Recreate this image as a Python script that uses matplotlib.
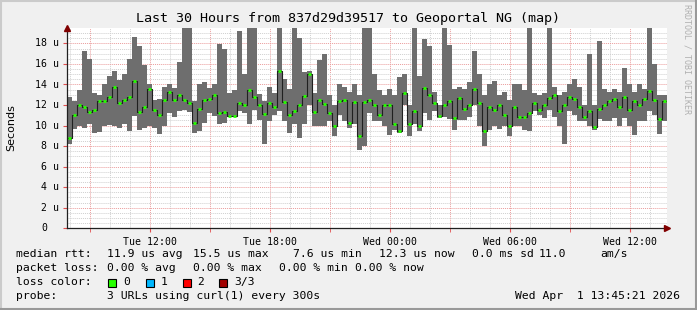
import numpy as np
import matplotlib
matplotlib.use("Agg")
import matplotlib.pyplot as plt
from matplotlib.lines import Line2D
from matplotlib.patches import Rectangle

# smokeping data, one sample every 15 minutes, values in microseconds
t_start = 7.85  # hours since Tue 00:00
step_h = 0.25

rtt_min = [8.2, 9.7, 10.0, 9.8, 10.2, 9.3, 9.4, 10.0, 10.1, 10.0, 9.8, 10.2, 9.5, 10.9, 9.6, 9.8, 10.0, 9.8, 9.2, 10.0,
           11.2, 10.8, 11.4, 11.5, 11.3, 9.3, 9.5, 10.3, 11.2, 10.9, 10.2, 10.3, 10.8, 10.8, 11.4, 11.2, 10.2, 11.5, 10.5, 8.2,
           10.4, 11.0, 11.4, 10.4, 9.3, 10.2, 8.8, 10.2, 12.0, 10.0, 10.0, 10.0, 10.4, 9.0, 11.0, 10.4, 9.8, 10.2, 7.6, 8.0,
           11.2, 10.4, 10.4, 10.0, 9.1, 9.6, 9.3, 12.0, 9.0, 10.2, 9.5, 11.2, 10.5, 11.4, 10.7, 10.8, 10.6, 9.6, 10.5, 10.5,
           10.8, 12.0, 10.0, 8.0, 9.6, 10.0, 9.7, 10.0, 9.0, 10.0, 10.0, 9.6, 9.5, 11.4, 11.0, 10.7, 11.5, 10.8, 10.0, 8.2,
           11.4, 11.0, 10.4, 10.4, 10.0, 9.6, 10.6, 10.4, 10.4, 10.7, 10.0, 10.7, 10.0, 9.1, 10.4, 10.4, 11.4, 11.0, 9.2, 10.4]

rtt_med = [8.8, 11.0, 12.0, 11.8, 11.3, 11.5, 12.4, 12.4, 12.8, 13.8, 12.2, 12.5, 12.8, 14.3, 11.3, 11.8, 13.6, 11.5, 11.0, 12.5,
           13.3, 12.5, 13.0, 12.5, 12.2, 10.3, 11.6, 12.5, 12.6, 13.0, 11.2, 11.3, 10.9, 10.9, 12.2, 12.0, 13.5, 12.8, 12.0, 11.1,
           12.2, 11.8, 15.3, 12.3, 11.0, 11.4, 12.0, 12.9, 15.0, 11.3, 12.5, 12.1, 11.2, 10.0, 12.4, 12.5, 10.3, 12.3, 9.0, 12.3,
           12.5, 12.0, 11.0, 12.0, 12.0, 10.2, 9.5, 13.2, 10.2, 11.4, 10.0, 13.7, 13.0, 12.2, 10.9, 12.0, 12.4, 10.7, 12.7, 11.6,
           12.0, 13.6, 12.2, 9.5, 11.8, 11.5, 12.0, 11.0, 10.0, 11.8, 10.8, 10.8, 11.2, 12.2, 11.5, 12.0, 12.7, 13.0, 11.4, 12.0,
           12.8, 12.6, 11.8, 10.8, 11.4, 9.9, 11.6, 12.0, 12.4, 12.6, 11.8, 12.8, 11.5, 12.4, 12.0, 12.6, 13.4, 12.5, 10.6, 12.4]

rtt_max = [12.8, 12.4, 13.5, 17.3, 16.5, 13.2, 13.0, 14.0, 14.8, 15.3, 14.4, 15.0, 16.5, 18.6, 17.7, 15.9, 14.0, 12.5, 12.6, 13.8,
           14.0, 13.7, 16.2, 20.5, 20.5, 12.4, 14.0, 14.2, 13.7, 14.0, 17.9, 17.5, 13.2, 13.5, 19.2, 15.0, 20.5, 20.5, 13.1, 12.4,
           13.8, 13.2, 20.5, 14.5, 13.6, 20.5, 18.5, 15.2, 15.3, 13.2, 16.4, 17.0, 13.0, 12.0, 14.0, 13.8, 13.3, 14.0, 13.0, 20.5,
           20.5, 15.0, 13.5, 13.0, 13.6, 13.0, 14.7, 15.0, 12.0, 20.5, 14.8, 18.4, 17.7, 13.3, 12.0, 20.5, 17.8, 13.6, 13.8, 13.6,
           14.2, 17.3, 15.0, 13.0, 14.0, 14.3, 13.0, 13.3, 12.5, 14.0, 14.0, 13.5, 20.5, 13.2, 13.0, 13.2, 20.5, 13.8, 13.0, 13.3,
           14.0, 14.5, 13.8, 12.0, 17.0, 12.0, 18.2, 13.6, 13.3, 13.6, 13.3, 15.6, 14.0, 13.3, 14.0, 13.6, 20.5, 16.0, 13.0, 13.0]

tick_hours = [12, 18, 24, 30, 36]
tick_labels = ["Tue 12:00", "Tue 18:00", "Wed 00:00", "Wed 06:00", "Wed 12:00"]
y_ticks = [0, 2, 4, 6, 8, 10, 12, 14, 16, 18]
y_labels = ["0", "2 u", "4 u", "6 u", "8 u", "10 u", "12 u", "14 u", "16 u", "18 u"]

legend_rows = [
    [(16, "median rtt:"), (107, "11.9 us avg"), (193, "15.5 us max"), (293, "7.6 us min"),
     (379, "12.3 us now"), (472, "0.0 ms sd"), (539, "11.0"), (600, "am/s")],
    [(16, "packet loss:"), (107, "0.00 % avg"), (193, "0.00 % max"), (279, "0.00 % min"), (355, "0.00 % now")],
    [(16, "loss color:")],
    [(16, "probe:"), (107, "3 URLs using curl(1) every 300s")],
]
loss_colors = ["#26ff00", "#00b8ff", "#ff0000", "#a10000"]
loss_names = ["0", "1", "2", "3/3"]
loss_box_x = [108, 146, 183, 219]
loss_text_x = [123, 161, 197, 234]

W, H = 697, 310
MONO = "DejaVu Sans Mono"

def fx(px):
    return px / W

def fy(py):
    return 1 - py / H

fig = plt.figure(figsize=(W / 100, H / 100), dpi=100, facecolor="#f0f0f0")
ax = fig.add_axes([fx(67), fy(228.3), 600 / W, (228.3 - 28) / H])
ax.set_facecolor("white")

t = t_start + step_h * np.arange(len(rtt_med))
lo = np.array(rtt_min)
hi = np.array(rtt_max)
med = np.array(rtt_med)

ax.set_xlim(t_start, t_start + 30)
ax.set_ylim(0, 19.5)

# grid
grid_ls = (0, (1, 1))
for h in np.arange(8, 38, 1):
    if h % 3 == 0:
        ax.axvline(h, color="#eb9c9c", lw=0.7, ls=grid_ls, zorder=0)
    else:
        ax.axvline(h, color="#d0d0d0", lw=0.7, ls=grid_ls, zorder=0)
for v in np.arange(0.5, 19.5, 0.5):
    if v % 2 == 0:
        ax.axhline(v, color="#eb9c9c", lw=0.7, ls=grid_ls, zorder=0)
    else:
        ax.axhline(v, color="#d0d0d0", lw=0.7, ls=grid_ls, zorder=0)

# smoke
ax.bar(t, hi - lo, bottom=lo, width=step_h, align="edge", color="#6e6e6e", linewidth=0, zorder=2)
# median line
ax.step(np.append(t, t[-1] + step_h), np.append(med, med[-1]), where="post", color="#202020", lw=0.8, zorder=3)
ax.hlines(med, t + 0.03, t + step_h - 0.03, colors="#26ff00", lw=2.0, zorder=4)

# axes
for s in ["top", "right"]:
    ax.spines[s].set_visible(False)
for s in ["left", "bottom"]:
    ax.spines[s].set_color("#202020")
    ax.spines[s].set_linewidth(0.9)
ax.set_xticks(tick_hours)
ax.set_xticklabels(tick_labels, fontfamily=MONO, fontsize=7.1)
ax.set_xticks(np.arange(9, 38, 3), minor=True)
ax.tick_params(axis="x", which="major", length=3, color="#e05050", pad=3)
ax.tick_params(axis="x", which="minor", length=3, color="#e05050")
ax.set_yticks(y_ticks)
ax.set_yticklabels([])
ax.tick_params(axis="y", which="major", length=3, color="#e05050")
for v, lab in zip(y_ticks, y_labels):
    xr = 59 if lab != "0" else 47
    fig.text(fx(xr), fy(228.3 - v * 10.27), lab, fontfamily=MONO, fontsize=7.1,
             ha="right", va="center")

# arrows
ax.plot([0], [1.0], marker="^", color="#800000", ms=4.5, transform=ax.transAxes, clip_on=False, zorder=5)
ax.plot([1.0], [0], marker=">", color="#800000", ms=4.5, transform=ax.transAxes, clip_on=False, zorder=5)

# texts
fig.text(0.5, fy(18.5), "Last 30 Hours from 837d29d39517 to Geoportal NG (map)",
         fontfamily=MONO, fontsize=9.6, ha="center", va="center")
fig.text(fx(11), fy(128), "Seconds", fontfamily="DejaVu Sans", fontsize=8, rotation=90,
         ha="center", va="center")
fig.text(fx(687), fy(59), "RRDTOOL / TOBI OETIKER", fontfamily=MONO, fontsize=6,
         rotation=270, ha="center", va="center", color="#b0b0b0")

row_y = [254, 268, 282, 296]
for ry, row in zip(row_y, legend_rows):
    for x0, s in row:
        fig.text(fx(x0), fy(ry), s, fontfamily=MONO, fontsize=8.2, ha="left", va="center")
for bx, tx, c, n in zip(loss_box_x, loss_text_x, loss_colors, loss_names):
    fig.patches.append(Rectangle((fx(bx), fy(286.5)), 8 / W, 8 / H, transform=fig.transFigure,
                                 facecolor=c, edgecolor="black", lw=0.8))
    fig.text(fx(tx), fy(282), n, fontfamily=MONO, fontsize=8.2, ha="left", va="center")
fig.text(fx(680), fy(296), "Wed Apr  1 13:45:21 2026", fontfamily=MONO, fontsize=8.2,
         ha="right", va="center")

# 3d frame
fig.add_artist(Line2D([0, 1], [fy(0.5), fy(0.5)], transform=fig.transFigure, color="#cbcbcb", lw=1.5))
fig.add_artist(Line2D([fx(0.5), fx(0.5)], [0, 1], transform=fig.transFigure, color="#cbcbcb", lw=1.5))
fig.add_artist(Line2D([0, 1], [fy(309), fy(309)], transform=fig.transFigure, color="#999999", lw=1.5))
fig.add_artist(Line2D([fx(696), fx(696)], [0, 1], transform=fig.transFigure, color="#999999", lw=1.5))

fig.savefig("out.png", dpi=100, facecolor=fig.get_facecolor())
